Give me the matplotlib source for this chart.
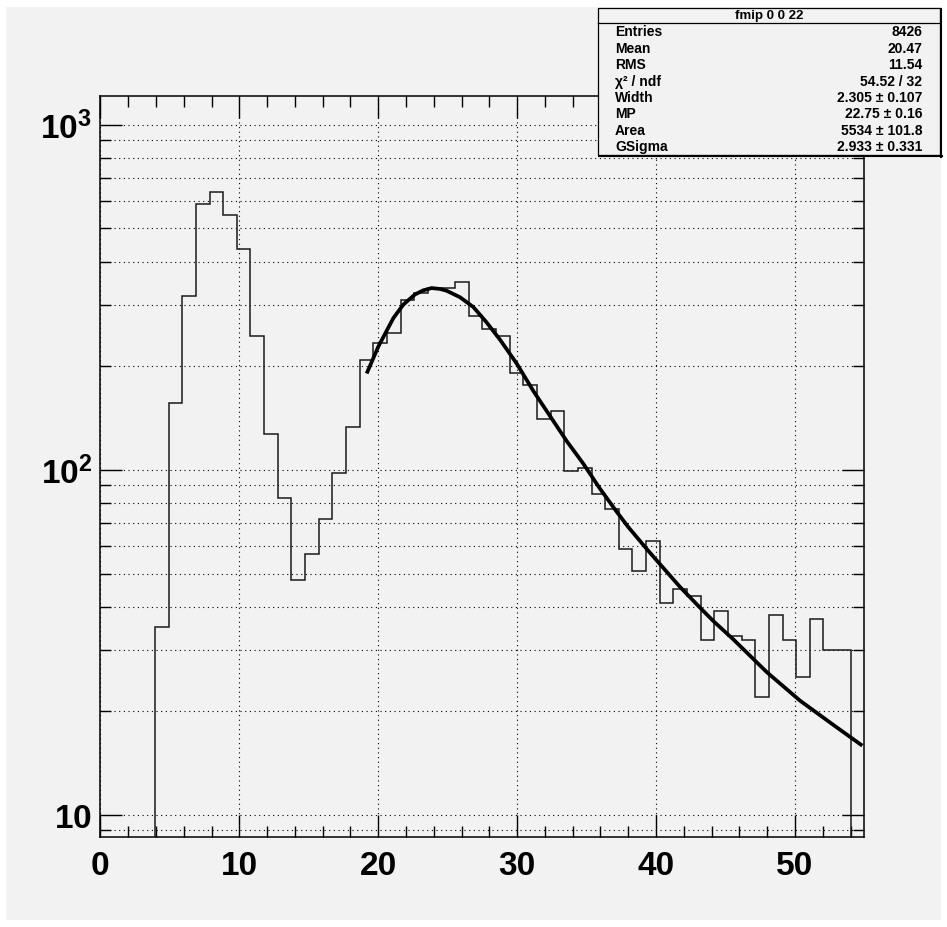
import numpy as np
import matplotlib
matplotlib.use("Agg")
import matplotlib.pyplot as plt
from matplotlib.patches import Rectangle
from matplotlib.lines import Line2D
from matplotlib.ticker import FixedLocator, FixedFormatter, MultipleLocator, LogLocator, NullFormatter

plt.rcParams['font.family'] = ['Liberation Sans', 'DejaVu Sans']
plt.rcParams['mathtext.fontset'] = 'custom'
plt.rcParams['mathtext.bf'] = 'Liberation Sans:bold'
plt.rcParams['mathtext.rm'] = 'Liberation Sans'

# ---- data ----
bin_lo, bin_hi, n_bins = 0.0, 55.0, 56
counts = [0, 0, 0, 0, 35, 156, 319, 589, 637, 548, 436, 244, 127, 83, 48, 57,
          72, 98, 133, 208, 233, 249, 311, 325, 337, 337, 351, 278, 256, 244,
          190, 176, 140, 148, 99, 101, 85, 77, 59, 51, 62, 41, 45, 43, 32, 39,
          33, 32, 22, 38, 32, 25, 37, 30, 30, 0]

fit_x = [19.17, 20.0, 21.09, 21.81, 22.65, 23.25, 23.85, 24.45, 24.93, 25.89,
         26.85, 27.81, 28.77, 29.97, 31.17, 32.37, 33.57, 34.77, 35.97, 37.17,
         38.0, 39.33, 40.06, 41.73, 43.17, 44.13, 45.57, 47.97, 50.37, 52.77, 54.85]
fit_y = [190, 227, 275, 301, 322, 331, 336, 334, 330, 316,
         296, 267, 238, 203, 169, 143, 121, 104, 88, 75.5,
         68.2, 58.9, 54.5, 45.7, 39.8, 36.4, 32.2, 25.9, 21.4, 18.2, 15.85]

x_ticklabels = ['0', '10', '20', '30', '40', '50']
x_ticks = [0, 10, 20, 30, 40, 50]
y_ticks = [10, 100, 1000]
y_ticklabels = [r'$\mathbf{10}$', r'$\mathbf{10^{2}}$', r'$\mathbf{10^{3}}$']

stat_title = 'fmip 0 0 22'
stat_names = ['Entries', 'Mean', 'RMS', 'χ² / ndf', 'Width', 'MP', 'Area', 'GSigma']
stat_values = ['8426', '20.47', '11.54', '54.52 / 32', '2.305 ± 0.107',
               '22.75 ± 0.16', '5534 ± 101.8', '2.933 ± 0.331']

# ---- figure ----
W, H = 947, 928
fig = plt.figure(figsize=(W / 100, H / 100), dpi=100, facecolor='white')
BG = '#f2f2f2'

def fx(px):
    return px / W

def fy(py):
    return 1 - py / H

# canvas grey area
fig.patches.append(Rectangle((fx(6), fy(921)), fx(941) - fx(6), fy(8) - fy(921),
                             transform=fig.transFigure, facecolor=BG,
                             edgecolor='none', zorder=-10))

ax_l, ax_r, ax_t, ax_b = 100.4, 864.4, 96.7, 838.3
ax = fig.add_axes([fx(ax_l), fy(ax_b), fx(ax_r) - fx(ax_l), fy(ax_t) - fy(ax_b)])
ax.set_facecolor(BG)

edges = np.linspace(bin_lo, bin_hi, n_bins + 1)
ax.set_yscale('log', nonpositive='clip')
ax.stairs(counts, edges, color='#1a1a1a', linewidth=1.1, baseline=None, zorder=3)
ax.plot(fit_x, fit_y, color='black', linewidth=2.7, solid_capstyle='butt',
        solid_joinstyle='round', zorder=4)

ax.set_xlim(0, 55)
ax.set_ylim(8.6, 1213)

ax.xaxis.set_major_locator(FixedLocator(x_ticks))
ax.xaxis.set_major_formatter(FixedFormatter(x_ticklabels))
ax.xaxis.set_minor_locator(MultipleLocator(2))
ax.yaxis.set_major_locator(FixedLocator(y_ticks))
ax.yaxis.set_major_formatter(FixedFormatter(y_ticklabels))
ax.yaxis.set_minor_locator(LogLocator(base=10, subs=np.arange(2, 10)))
ax.yaxis.set_minor_formatter(NullFormatter())

ax.tick_params(which='both', direction='in', top=True, right=True, width=1.0, color='black')
ax.tick_params(which='major', length=15.5)
ax.tick_params(which='minor', length=8)
ax.tick_params(axis='x', which='major', pad=9)
ax.tick_params(axis='y', which='major', pad=6)
for lab in ax.get_xticklabels() + ax.get_yticklabels():
    lab.set_fontsize(24)
    lab.set_fontweight('bold')

ax.xaxis.grid(True, which='major', color='black', linewidth=0.8, linestyle=(0, (1, 3.2)))
ax.yaxis.grid(True, which='both', color='black', linewidth=0.8, linestyle=(0, (1, 3.2)))
ax.set_axisbelow(True)
for s in ax.spines.values():
    s.set_linewidth(1.1)

# ---- stats box ----
bl, br, bt, bb = 597.7, 940.0, 9.3, 156.0
fig.patches.append(Rectangle((fx(bl), fy(bb)), fx(br) - fx(bl), fy(bt) - fy(bb),
                             transform=fig.transFigure, facecolor=BG,
                             edgecolor='black', linewidth=0.9, zorder=5))
# shadow lines
fig.lines.append(Line2D([fx(bl + 1), fx(br + 1.5)], [fy(bb + 1), fy(bb + 1)],
                        transform=fig.transFigure, color='black', linewidth=1.5, zorder=6))
fig.lines.append(Line2D([fx(br + 1), fx(br + 1)], [fy(bb + 1.5), fy(bt + 1)],
                        transform=fig.transFigure, color='black', linewidth=1.5, zorder=6))
fig.lines.append(Line2D([fx(bl), fx(br)], [fy(24), fy(24)],
                        transform=fig.transFigure, color='black', linewidth=0.9, zorder=6))
fig.text(fx((bl + br) / 2), fy(16), stat_title, ha='center', va='center',
         fontsize=9.5, fontweight='bold', zorder=7)
for i, (nm, val) in enumerate(zip(stat_names, stat_values)):
    yy = 32.5 + i * 16.35
    fig.text(fx(615), fy(yy), nm, ha='left', va='center', fontsize=10,
             fontweight='bold', zorder=7)
    fig.text(fx(922), fy(yy), val, ha='right', va='center', fontsize=10,
             fontweight='bold', zorder=7)

fig.savefig('out.png', dpi=100, facecolor='white')
